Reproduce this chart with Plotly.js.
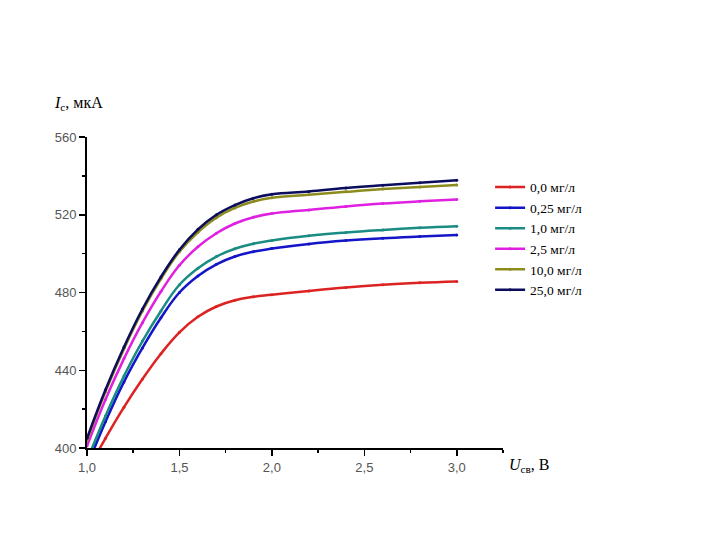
<!DOCTYPE html>
<html>
<head>
<meta charset="utf-8">
<script src="https://cdn.plot.ly/plotly-3.0.1.min.js"></script>
<style>
  html, body { margin: 0; padding: 0; background: #fff; }
  #chart { width: 720px; height: 540px; }
</style>
</head>
<body>
<div id="chart"></div>
<script>
// U, V
const voltage = [1.0, 1.1, 1.2, 1.3, 1.4, 1.5, 1.6, 1.7, 1.8, 1.9, 2.0, 2.2, 2.4, 2.6, 2.8, 3.0];

// I, uA
const conc00 = [388, 405, 421, 435.5, 448.5, 459.5, 467.5, 472.8, 476, 477.8, 478.8, 480.8, 482.6, 484, 485, 485.7];
const conc025 = [390.5, 413.5, 434, 451.5, 467, 480, 488.5, 494.5, 498.5, 501, 502.6, 505, 506.7, 507.9, 508.8, 509.6];
const conc10 = [393.5, 416.5, 437, 455, 470.5, 484, 492.5, 498.5, 502.5, 505.1, 506.8, 509.2, 510.9, 512.2, 513.3, 514.1];
const conc25 = [401, 425, 446, 464.5, 480.5, 494, 503.5, 510.5, 515.5, 518.7, 520.6, 522.5, 524.3, 525.8, 526.9, 527.8];
const conc100 = [404, 429, 451, 470.5, 487, 501, 511, 518.5, 523.5, 526.8, 528.8, 530.3, 531.8, 533.2, 534.3, 535.3];
const conc250 = [405, 430, 452, 471.5, 488, 502, 512.5, 520, 525, 528.5, 530.5, 532, 533.8, 535.2, 536.5, 537.7];

const seriesNames = ["0,0 мг/л", "0,25 мг/л", "1,0 мг/л", "2,5 мг/л", "10,0 мг/л", "25,0 мг/л"];
const seriesValues = [conc00, conc025, conc10, conc25, conc100, conc250];
const seriesColors = ["#dd2222", "#1414c8", "#1a8c84", "#e020e0", "#8c8c1e", "#0c0c5c"];

const traces = seriesValues.map((ys, i) => ({
  x: voltage,
  y: ys,
  type: "scatter",
  mode: "lines+markers",
  name: seriesNames[i],
  line: { color: seriesColors[i], width: 2.5, shape: "spline", smoothing: 1.2 },
  marker: { color: seriesColors[i], size: 3 },
}));

const tickFont = { family: "Liberation Sans, Arial, sans-serif", size: 13, color: "#555" };
const serif = "Liberation Serif, Times New Roman, serif";

const layout = {
  width: 720,
  height: 540,
  paper_bgcolor: "#fff",
  plot_bgcolor: "#fff",
  separators: ", ",
  showlegend: true,
  margin: { l: 87, r: 217, t: 137, b: 92, pad: 0 },
  xaxis: {
    range: [1.0, 3.25],
    tick0: 1.0,
    dtick: 0.5,
    tickformat: ".1f",
    ticks: "outside",
    ticklen: 6,
    tickwidth: 1.5,
    tickcolor: "#000",
    minor: { dtick: 0.25, ticks: "outside", ticklen: 3, tickwidth: 1.5, tickcolor: "#000" },
    showline: true,
    linecolor: "#000",
    linewidth: 2,
    showgrid: false,
    zeroline: false,
    tickfont: tickFont,
  },
  yaxis: {
    range: [400, 560],
    tick0: 400,
    dtick: 40,
    ticks: "outside",
    ticklen: 6,
    tickwidth: 1.5,
    tickcolor: "#000",
    minor: { dtick: 20, ticks: "outside", ticklen: 3, tickwidth: 1.5, tickcolor: "#000" },
    showline: true,
    linecolor: "#000",
    linewidth: 2,
    showgrid: false,
    zeroline: false,
    tickfont: tickFont,
  },
  legend: {
    x: 0.969,
    xanchor: "left",
    y: 0.888,
    yanchor: "top",
    bgcolor: "rgba(0,0,0,0)",
    borderwidth: 0,
    font: { family: serif, size: 13.5, color: "#000" },
  },
  annotations: [
    {
      xref: "paper", yref: "paper",
      x: -0.085, y: 1.07, xanchor: "left", yanchor: "bottom",
      text: "<i>I</i><sub>с</sub>, мкА",
      showarrow: false,
      font: { family: serif, size: 16, color: "#000" },
    },
    {
      xref: "paper", yref: "paper",
      x: 1.01, y: -0.02, xanchor: "left", yanchor: "top",
      text: "<i>U</i><sub>св</sub>, В",
      showarrow: false,
      font: { family: serif, size: 16, color: "#000" },
    },
  ],
};

Plotly.newPlot("chart", traces, layout, { displayModeBar: false, staticPlot: true });
</script>
</body>
</html>
